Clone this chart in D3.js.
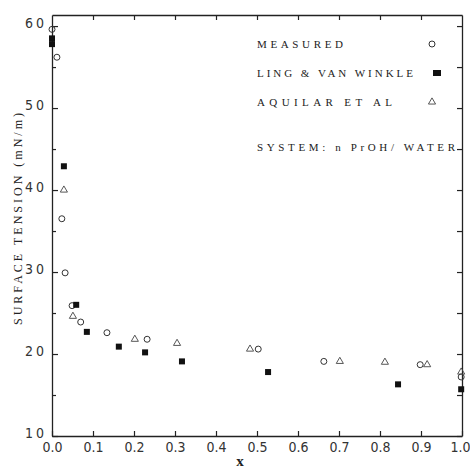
<!DOCTYPE html>
<html>
<head>
<meta charset="utf-8">
<script src="https://cdn.jsdelivr.net/npm/d3@7"></script>
<style>
  body { margin: 0; background: #fff; }
  svg { display: block; }
  .tick text { font-family: "Liberation Sans Narrow", "DejaVu Sans Condensed", sans-serif; fill: #333; }
  .serif { font-family: "Liberation Serif", "DejaVu Serif", serif; fill: #222; }
</style>
</head>
<body>
<svg id="chart"></svg>
<script>
// mole fraction x vs surface tension (mN/m)
const measuredX = [0.0, 0.012, 0.024, 0.032, 0.049, 0.07, 0.134, 0.232, 0.503, 0.663, 0.898, 0.998];
const measuredY = [59.6, 56.2, 36.5, 29.9, 25.9, 23.9, 22.6, 21.8, 20.6, 19.1, 18.7, 17.2];

const lingX = [0.0, 0.0, 0.029, 0.059, 0.085, 0.163, 0.227, 0.317, 0.527, 0.844, 0.998];
const lingY = [58.5, 57.8, 42.9, 26.0, 22.7, 20.9, 20.2, 19.1, 17.8, 16.3, 15.7];

const aquilarX = [0.029, 0.051, 0.202, 0.305, 0.483, 0.702, 0.812, 0.915, 0.998];
const aquilarY = [40.0, 24.6, 21.8, 21.3, 20.6, 19.1, 19.0, 18.7, 17.8];

const xTicks = [0, 0.1, 0.2, 0.3, 0.4, 0.5, 0.6, 0.7, 0.8, 0.9, 1.0];
const yTicks = [10, 20, 30, 40, 50, 60];
const yMinor = [15, 25, 35, 45, 55];

const legendLabels = ["MEASURED", "LING & VAN WINKLE", "AQUILAR ET AL"];

const width = 470, height = 468;

const svg = d3.select("#chart")
  .attr("width", width)
  .attr("height", height);

svg.append("rect").attr("width", width).attr("height", height).attr("fill", "#fff");

const x = d3.scaleLinear().domain([0, 1]).range([52, 462]);
const y = d3.scaleLinear().domain([10, 61.35]).range([436, 15]);

// bottom axis, ticks point inward
const bottom = svg.append("g")
  .attr("transform", "translate(0,436)")
  .call(d3.axisBottom(x).tickValues(xTicks).tickSizeInner(-5).tickSizeOuter(0)
    .tickPadding(6).tickFormat(d3.format(".1f")));
bottom.selectAll("text").attr("font-size", 14)
  .attr("dx", d => d === 1 ? -2 : 0);

// top axis (frame)
svg.append("g")
  .attr("transform", "translate(0,15)")
  .call(d3.axisTop(x).tickValues(xTicks.slice(1, -1)).tickSizeInner(-5).tickSizeOuter(0).tickFormat(""));

// left axis
const left = svg.append("g")
  .attr("transform", "translate(52,0)")
  .call(d3.axisLeft(y).tickValues(yTicks).tickSizeInner(-6).tickSizeOuter(0).tickPadding(5).tickFormat(d3.format("d")));
left.selectAll("text").attr("font-size", 14).attr("letter-spacing", 3).attr("dy", "0.1em");
svg.append("g")
  .attr("transform", "translate(52,0)")
  .call(d3.axisLeft(y).tickValues(yMinor).tickSizeInner(-4).tickSizeOuter(0).tickFormat(""))
  .select(".domain").remove();

// right axis (frame)
svg.append("g")
  .attr("transform", "translate(462,0)")
  .call(d3.axisRight(y).tickValues(yTicks.concat(yMinor)).tickSizeInner(-5).tickSizeOuter(0).tickFormat(""));

svg.selectAll(".domain").attr("stroke", "#222").attr("stroke-width", 1.3);
svg.selectAll(".tick line").attr("stroke", "#222").attr("stroke-width", 1.2);

// axis titles
svg.append("text")
  .attr("class", "serif")
  .attr("transform", "translate(22,219) rotate(-90)")
  .attr("text-anchor", "middle")
  .attr("font-size", 12)
  .attr("textLength", 212)
  .attr("lengthAdjust", "spacing")
  .text("SURFACE  TENSION (mN/m)");

svg.append("text")
  .attr("class", "serif")
  .attr("x", 240).attr("y", 466)
  .attr("text-anchor", "middle")
  .attr("font-size", 15)
  .attr("font-weight", "bold")
  .text("x");

// markers
const tri = d3.symbol().type(d3.symbolTriangle).size(22);

svg.append("g").selectAll("circle")
  .data(d3.zip(measuredX, measuredY))
  .join("circle")
  .attr("cx", d => x(d[0])).attr("cy", d => y(d[1]))
  .attr("r", 3).attr("fill", "none").attr("stroke", "#333").attr("stroke-width", 1);

svg.append("g").selectAll("rect")
  .data(d3.zip(lingX, lingY))
  .join("rect")
  .attr("x", d => x(d[0]) - 3).attr("y", d => y(d[1]) - 3)
  .attr("width", 6).attr("height", 6).attr("fill", "#111");

svg.append("g").selectAll("path")
  .data(d3.zip(aquilarX, aquilarY))
  .join("path")
  .attr("transform", d => `translate(${x(d[0])},${y(d[1])})`)
  .attr("d", tri)
  .attr("fill", "none").attr("stroke", "#444").attr("stroke-width", 0.9);

// legend
const legendY = [44, 73, 102];
const legendW = [86, 156, 135];
const lg = svg.append("g");
lg.selectAll("text")
  .data(legendLabels)
  .join("text")
  .attr("class", "serif")
  .attr("x", 257).attr("y", (d, i) => legendY[i] + 4)
  .attr("font-size", 11)
  .attr("textLength", (d, i) => legendW[i])
  .attr("lengthAdjust", "spacing")
  .text(d => d);

lg.append("circle").attr("cx", 432).attr("cy", legendY[0]).attr("r", 3)
  .attr("fill", "none").attr("stroke", "#333");
lg.append("rect").attr("x", 433).attr("y", legendY[1] - 3).attr("width", 8).attr("height", 6).attr("fill", "#111");
lg.append("path").attr("transform", `translate(432,${legendY[2]})`).attr("d", tri)
  .attr("fill", "none").attr("stroke", "#444").attr("stroke-width", 0.9);

lg.append("text")
  .attr("class", "serif")
  .attr("x", 257).attr("y", 151)
  .attr("font-size", 11)
  .attr("textLength", 198)
  .attr("lengthAdjust", "spacing")
  .text("SYSTEM:  n PrOH/ WATER");
</script>
</body>
</html>
